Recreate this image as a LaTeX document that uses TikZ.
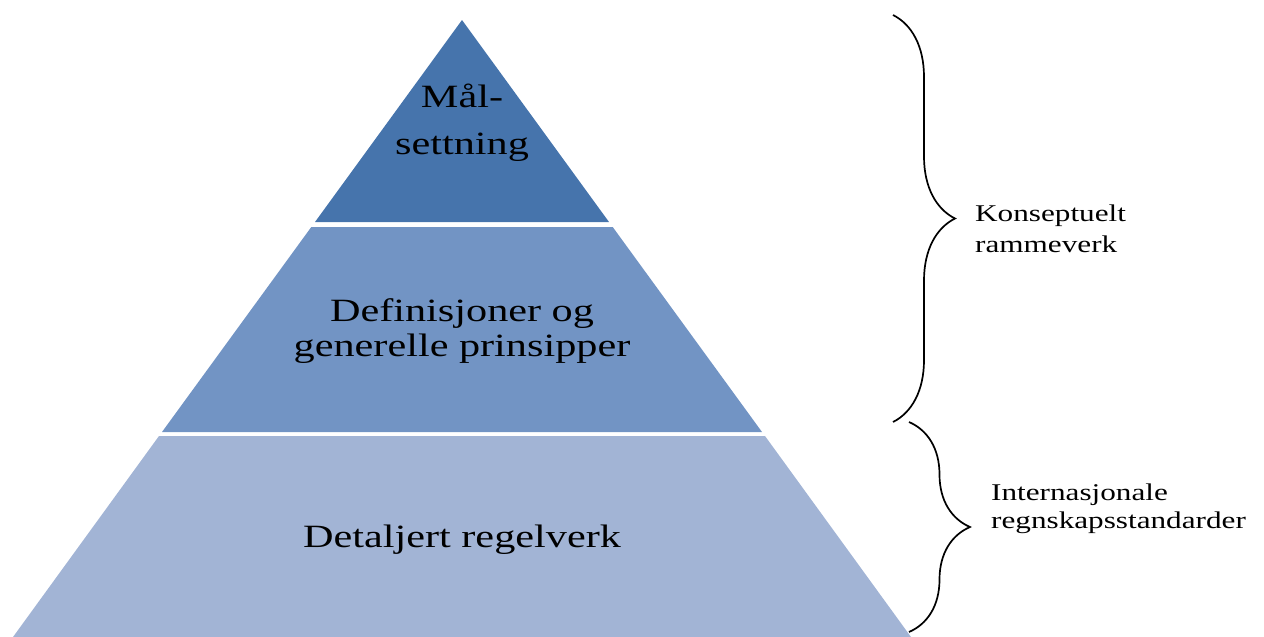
\documentclass[tikz,border=0pt]{standalone}
\usepackage{fontspec}
\setmainfont{Liberation Serif}[FakeStretch=1.3]
\usetikzlibrary{decorations.pathreplacing}
\definecolor{lvla}{RGB}{70,116,172}
\definecolor{lvlb}{RGB}{114,148,196}
\definecolor{lvlc}{RGB}{162,180,213}
\begin{document}
\begin{tikzpicture}[x=1pt,y=1pt,
  lvl/.style={font=\fontsize{32.5}{35}\selectfont,align=center,anchor=base},
  side/.style={font=\fontsize{24}{31}\selectfont,align=left,anchor=base west,inner xsep=0pt},
  brc/.style={decorate,decoration={brace,amplitude=#1},line width=1.7pt}]
\useasboundingbox (0,0) rectangle (1264,-637);
\fill[lvla] (462,-20) -- (609,-222) -- (315,-222) -- cycle;
\fill[lvlb] (311.3,-227) -- (612.7,-227) -- (762,-432) -- (162,-432) -- cycle;
\fill[lvlc] (159,-436) -- (765,-436) -- (911,-637) -- (13,-637) -- cycle;
\node[lvl,font=\fontsize{32.5}{47}\selectfont] (goal) at (462,-154) {Mål-\\settning};
\node[lvl] (defs) at (462,-356.7) {Definisjoner og\\generelle prinsipper};
\node[lvl] (rules) at (462,-547.7) {Detaljert regelverk};
\coordinate (ka) at (893,-15);
\coordinate (kb) at (893,-422);
\coordinate (ia) at (909,-422);
\coordinate (ib) at (909,-632);
\draw[brc=62] (ka) -- (kb);
\draw[brc=61] (ia) -- (ib);
\node[side] (konsept) at (975,-252) {Konseptuelt\\rammeverk};
\node[side,font=\fontsize{24}{28}\selectfont] (ifrs) at (991,-528) {Internasjonale\\regnskapsstandarder};
\end{tikzpicture}
\end{document}
